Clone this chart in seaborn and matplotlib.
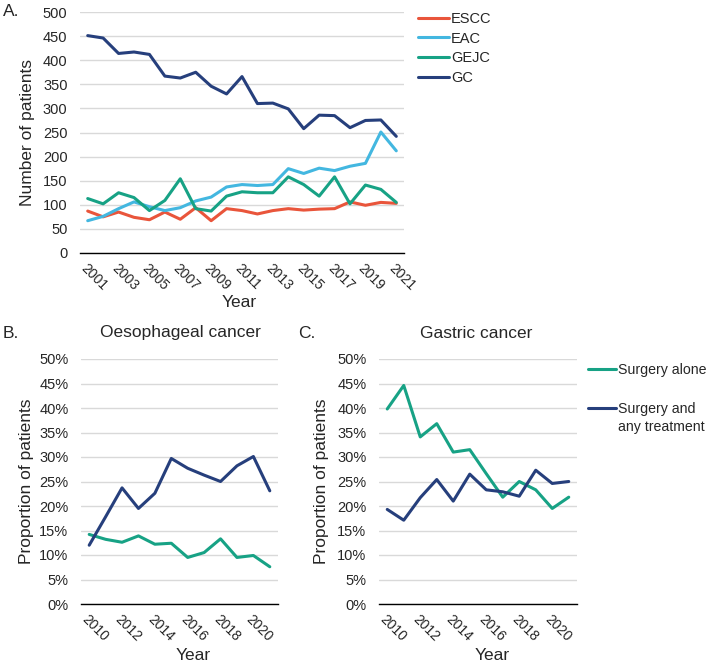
import matplotlib
matplotlib.use('Agg')
import matplotlib.pyplot as plt
import numpy as np
import pandas as pd
import seaborn as sns
from matplotlib.ticker import PercentFormatter

# panel A: number of patients per year
years_a = list(range(2001, 2022))
escc = [87, 75, 85, 74, 69, 85, 70, 94, 67, 92, 88, 81, 88, 92, 89, 91, 92, 106, 99, 105, 103]
eac = [67, 76, 92, 106, 96, 88, 94, 108, 116, 137, 142, 140, 142, 175, 165, 176, 171, 180, 186, 251, 212]
gejc = [113, 102, 125, 115, 88, 109, 154, 92, 87, 118, 127, 125, 125, 158, 142, 118, 158, 102, 141, 132, 105]
gc = [451, 446, 414, 417, 412, 367, 363, 375, 346, 330, 366, 310, 311, 299, 258, 286, 285, 260, 275, 276, 242]

# panels B and C: proportion of patients (%)
years_bc = list(range(2010, 2022))
oes_alone = [14.2, 13.2, 12.6, 13.9, 12.2, 12.4, 9.5, 10.5, 13.3, 9.5, 9.9, 7.6]
oes_any = [12.0, 17.8, 23.7, 19.5, 22.6, 29.7, 27.7, 26.3, 25.0, 28.2, 30.1, 23.1]
gas_alone = [39.8, 44.6, 34.1, 36.8, 31.0, 31.5, 26.6, 21.8, 25.0, 23.3, 19.5, 21.8]
gas_any = [19.3, 17.1, 21.7, 25.4, 21.0, 26.5, 23.3, 22.9, 22.0, 27.3, 24.6, 25.0]

RED = '#E9553B'
CYAN = '#43B7E0'
GREEN = '#17A285'
NAVY = '#263F7C'


def long_df(years, series):
    rows = []
    for name, vals in series.items():
        for y, v in zip(years, vals):
            rows.append({'Year': y, 'value': v, 'group': name})
    return pd.DataFrame(rows)


def style_axis(ax, years, ymax, ystep, label_every=2):
    ax.set_xlim(years[0] - 0.5, years[-1] + 0.5)
    ax.set_ylim(0, ymax)
    ax.set_yticks(np.arange(0, ymax + ystep / 2, ystep))
    ax.grid(axis='y', color='#D9D9D9', lw=1)
    ax.grid(axis='x', visible=False)
    ax.set_axisbelow(True)
    for s in ['left', 'right', 'top']:
        ax.spines[s].set_visible(False)
    ax.spines['bottom'].set_color('#000000')
    ax.spines['bottom'].set_linewidth(1)
    # tick marks between categories, labels on categories
    ax.set_xticks(np.arange(years[0] - 0.5, years[-1] + 1, 1))
    ax.set_xticklabels([])
    ax.tick_params(axis='x', which='major', length=4, width=1, color='#000000', direction='out')
    ax.set_xticks(years[::label_every], minor=True)
    ax.set_xticklabels([str(y) for y in years[::label_every]], minor=True,
                       rotation=-45, ha='left', va='top', rotation_mode='anchor')
    ax.tick_params(axis='x', which='minor', length=0, pad=6, labelsize=10)
    ax.tick_params(axis='y', length=0, pad=9, labelsize=10.5)
    if ax.get_legend() is not None:
        ax.get_legend().remove()


def main():
    sns.set_style('white')
    plt.rcParams['font.family'] = ['Liberation Sans', 'DejaVu Sans']

    fig = plt.figure(figsize=(7.09, 6.63), dpi=100)
    W, H = 709, 663
    axA = fig.add_axes([80 / W, 1 - 253 / H, 324 / W, 241 / H])
    axB = fig.add_axes([81 / W, 1 - 604 / H, 197 / W, 245 / H])
    axC = fig.add_axes([379 / W, 1 - 604 / H, 198 / W, 245 / H])

    # A
    dfa = long_df(years_a, {'ESCC': escc, 'EAC': eac, 'GEJC': gejc, 'GC': gc})
    sns.lineplot(data=dfa, x='Year', y='value', hue='group', ax=axA,
                 palette={'ESCC': RED, 'EAC': CYAN, 'GEJC': GREEN, 'GC': NAVY}, lw=2.2)
    style_axis(axA, years_a, 500, 50)
    axA.set_ylabel('Number of patients', fontsize=12.5)
    axA.set_xlabel('Year', fontsize=12.5)
    axA.yaxis.set_label_coords(-0.139, 0.5)
    axA.xaxis.set_label_coords(0.49, -0.175)

    hA = [plt.Line2D([], [], color=c, lw=2.2) for c in [RED, CYAN, GREEN, NAVY]]
    fig.legend(hA, ['ESCC', 'EAC', 'GEJC', 'GC'], loc='upper left',
               bbox_to_anchor=(418 / W, 1 - 12 / H), bbox_transform=fig.transFigure,
               frameon=False, fontsize=10.5, handlelength=2.1, handletextpad=0.15,
               labelspacing=0.38, borderpad=0, borderaxespad=0)

    # B and C
    pal = {'Surgery alone': GREEN, 'Surgery and any treatment': NAVY}
    for ax, alone, anyt, title, tx in [(axB, oes_alone, oes_any, 'Oesophageal cancer', 180),
                                       (axC, gas_alone, gas_any, 'Gastric cancer', 476)]:
        d = long_df(years_bc, {'Surgery alone': alone, 'Surgery and any treatment': anyt})
        sns.lineplot(data=d, x='Year', y='value', hue='group', ax=ax, palette=pal, lw=2.2)
        style_axis(ax, years_bc, 50, 5)
        ax.yaxis.set_major_formatter(PercentFormatter(decimals=0))
        ax.set_ylabel('Proportion of patients', fontsize=12.5)
        ax.set_xlabel('Year', fontsize=12.5)
        ax.xaxis.set_label_coords(0.57, -0.178)
        fig.text(tx / W, 1 - 333 / H, title, ha='center', va='center', fontsize=12.5)
    axB.yaxis.set_label_coords(-0.239, 0.5)
    axC.yaxis.set_label_coords(-0.253, 0.5)

    hC = [plt.Line2D([], [], color=c, lw=2.2) for c in [GREEN, NAVY]]
    fig.legend(hC, ['Surgery alone', 'Surgery and'], loc='upper left',
               bbox_to_anchor=(588 / W, 1 - 363 / H), bbox_transform=fig.transFigure,
               frameon=False, fontsize=10.2, handlelength=2.0, handletextpad=0.12,
               labelspacing=1.75, borderpad=0, borderaxespad=0)
    fig.text(618.5 / W, 1 - 427 / H, 'any treatment', ha='left', va='center', fontsize=10.2)

    fig.text(3 / W, 1 - 12 / H, 'A.', ha='left', va='center', fontsize=12.5)
    fig.text(3 / W, 1 - 333 / H, 'B.', ha='left', va='center', fontsize=12.5)
    fig.text(298 / W, 1 - 333 / H, 'C.', ha='left', va='center', fontsize=12.5)

    fig.savefig('out.png', dpi=100)


if __name__ == "__main__":
    main()
